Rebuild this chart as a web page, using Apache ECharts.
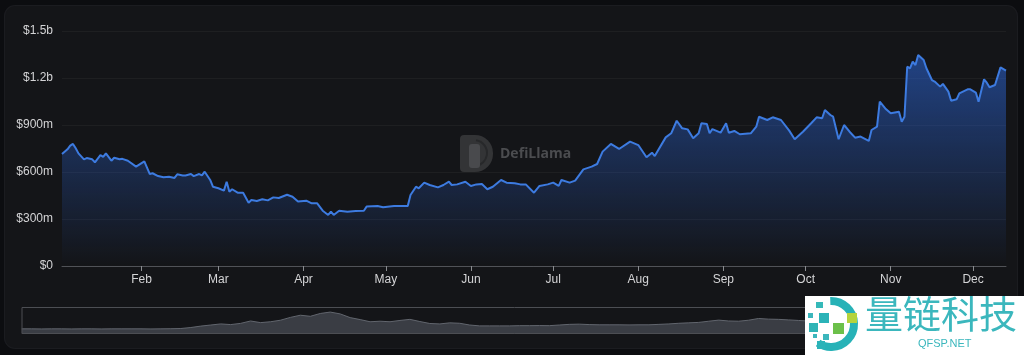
<!DOCTYPE html>
<html><head><meta charset="utf-8">
<script src="https://cdn.jsdelivr.net/npm/echarts@6/dist/echarts.min.js"></script>
<style>
html,body{margin:0;padding:0;background:#0c0d10;width:1024px;height:355px;overflow:hidden}
#card{position:absolute;left:5px;top:6px;width:1012px;height:342px;background:#141518;border-radius:10px;box-shadow:0 0 0 1px #1b1c20}
#chart{position:absolute;left:0;top:0;width:1024px;height:355px}
</style></head><body>
<div id="card"></div><div id="chart"></div>
<script>
const YEAR = '2023';
const dates = ['01-03','01-05','01-06','01-07','01-08','01-09','01-11','01-12','01-14','01-15','01-17','01-18','01-19','01-21','01-22','01-24','01-25','01-27','01-30',
'02-02','02-04','02-05','02-07','02-09','02-11','02-13','02-14','02-16','02-17','02-19','02-20','02-22','02-23','02-24','02-26','02-27',
'03-01','03-03','03-04','03-05','03-06','03-08','03-10','03-12','03-13','03-15','03-17','03-19','03-21','03-23','03-26','03-28','03-30',
'04-02','04-04','04-06','04-08','04-10','04-11','04-12','04-14','04-17','04-20','04-23','04-24','04-28','04-30',
'05-04','05-09','05-10','05-12','05-13','05-15','05-17','05-20','05-22','05-24','05-25','05-27','05-30',
'06-01','06-03','06-05','06-07','06-09','06-12','06-14','06-17','06-19','06-21','06-24','06-26','06-29',
'07-01','07-03','07-04','07-07','07-09','07-12','07-15','07-17','07-19','07-22','07-25','07-29',
'08-01','08-04','08-06','08-07','08-11','08-13','08-15','08-17','08-19','08-21','08-23','08-24','08-26','08-27','08-28','08-31',
'09-02','09-03','09-05','09-07','09-11','09-13','09-14','09-17','09-19','09-22','09-25','09-27','09-30',
'10-03','10-05','10-07','10-08','10-10','10-11','10-13','10-15','10-17','10-19','10-21','10-24','10-25','10-27','10-28','10-30',
'11-01','11-04','11-05','11-06','11-07','11-08','11-09','11-10','11-11','11-13','11-14','11-16','11-17','11-19','11-20','11-22','11-23','11-25','11-26','11-29','11-30',
'12-02','12-03','12-05','12-06','12-07','12-09','12-11','12-13'];
// TVL in millions of USD
const tvl = [715,745,768,779,751,719,681,689,681,662,708,697,719,672,691,681,684,672,634,
668,587,592,574,566,570,562,585,578,578,587,574,587,578,602,549,506,
496,481,538,474,490,468,468,404,421,415,426,419,438,434,455,442,411,
417,400,400,353,326,347,326,353,347,351,353,379,383,375,
383,383,453,506,496,532,517,502,517,538,517,521,538,
511,521,523,490,506,549,532,528,521,521,468,511,521,
532,511,549,532,545,617,634,651,730,779,747,794,
772,694,723,702,821,847,927,879,872,815,847,911,906,847,874,851,
911,851,862,841,847,889,953,932,949,932,864,809,857,
911,949,943,996,964,953,809,900,857,819,826,798,868,889,1049,1006,
975,985,921,953,1272,1262,1304,1283,1347,1315,1262,1187,1177,1145,1162,1113,1055,1064,1102,1128,1128,
1107,1049,1192,1170,1141,1155,1268,1247];
// shape shown in the zoom slider preview (relative units, evenly spaced)
const previewShape = [0.3,0.3,0.2,0.3,0.3,0.2,0.3,0.3,0.2,0.3,0.3,0.3,0.3,0.2,0.3,0.4,0.6,1.5,2.8,3.8,
4.8,4.2,5.3,7.5,6.0,6.8,8.2,10.8,12.8,11.8,14.4,15.7,14.0,10.6,8.8,6.8,7.3,6.8,8.0,9.0,
7.0,5.2,4.8,5.8,5.4,3.8,3.0,3.0,3.0,3.0,3.2,3.2,3.3,3.2,3.8,4.4,4.6,4.2,4.0,4.0,
4.0,3.9,4.0,4.0,4.4,4.8,5.4,5.8,6.2,7.3,8.3,7.5,7.3,8.2,9.8,9.2,9.0,8.5,8.0,7.5,
7.5,7.2,7.0,7.4,7.8,8.2,8.0,7.6,7.2,7.0,7.5,8.5,9.5,10.0,9.6,9.0,8.6,9.0,9.4,9.2];
const monthLabels = ['Jan','Feb','Mar','Apr','May','Jun','Jul','Aug','Sep','Oct','Nov','Dec'];
const yTickValues = [0,300,600,900,1200,1500];
const yTickLabels = ['$0','$300m','$600m','$900m','$1.2b','$1.5b'];

const xMin = YEAR + '-' + dates[0];
const xMax = YEAR + '-' + dates[dates.length - 1];
const mainData = dates.map((d, i) => [YEAR + '-' + d, tvl[i]]);
const t0 = echarts.time.parse(xMin).getTime();
const t1 = echarts.time.parse(xMax).getTime();
const previewData = previewShape.map((v, i) => [t0 + (t1 - t0) * i / (previewShape.length - 1), v]);

const chart = echarts.init(document.getElementById('chart'), null, {renderer: 'canvas'});
const FONT = '"Liberation Sans", Arial, sans-serif';
const TOP = {z: 100, zlevel: 1};
chart.setOption({
  animation: false,
  backgroundColor: 'transparent',
  grid: {left: 62, right: 18, top: 31, bottom: 89, containLabel: false},
  xAxis: {
    type: 'time', min: xMin, max: xMax,
    minInterval: 28 * 86400000, maxInterval: 31 * 86400000,
    axisLine: {lineStyle: {color: '#505257', width: 1}},
    axisTick: {show: true, length: 5, lineStyle: {color: '#8a8c90'}},
    splitLine: {show: false},
    axisLabel: {
      color: '#d4d4d6', fontSize: 12, fontFamily: FONT, margin: 8,
      formatter: v => monthLabels[new Date(v).getMonth()]
    }
  },
  yAxis: [{
    type: 'value', min: 0, max: 1500, interval: 300,
    axisLine: {show: false}, axisTick: {show: false},
    splitLine: {lineStyle: {color: 'rgba(255,255,255,0.045)'}},
    axisLabel: {
      color: '#d4d4d6', fontSize: 12, fontFamily: FONT, margin: 9,
      formatter: v => yTickLabels[yTickValues.indexOf(v)]
    }
  }, {
    type: 'value', show: false, min: 0, max: 100
  }],
  dataZoom: [{
    type: 'slider', xAxisIndex: 0, start: 0, end: 100,
    left: 19, right: 19, top: 307, height: 27,
    backgroundColor: 'rgba(0,0,0,0)',
    borderColor: '#4c4e53',
    fillerColor: 'rgba(0,0,0,0)',
    dataBackground: {lineStyle: {color: '#62666e', width: 1, opacity: 1}, areaStyle: {color: '#3a3d44', opacity: 1}},
    selectedDataBackground: {lineStyle: {color: '#62666e', width: 1, opacity: 1}, areaStyle: {color: '#3a3d44', opacity: 1}},
    handleStyle: {opacity: 0},
    moveHandleSize: 0,
    moveHandleStyle: {opacity: 0},
    showDetail: false,
    brushSelect: false,
    emphasis: {handleStyle: {opacity: 0}, moveHandleStyle: {opacity: 0}}
  }],
  series: [{
    name: 'preview', type: 'line', yAxisIndex: 1, data: previewData,
    symbol: 'none', silent: true, lineStyle: {opacity: 0}, z: 0
  }, {
    name: 'TVL', type: 'line', data: mainData, showSymbol: false, symbol: 'none',
    lineStyle: {color: '#3d7be0', width: 2},
    itemStyle: {color: '#3d7be0'},
    areaStyle: {
      color: new echarts.graphic.LinearGradient(0, 0, 0, 1, [
        {offset: 0, color: 'rgba(45,105,222,0.78)'},
        {offset: 1, color: 'rgba(45,105,222,0)'}
      ])
    },
    z: 3
  }],
  graphic: [
    {type: 'group', left: 460, top: 135, z: 1, silent: true, children: [
      {type: 'rect', shape: {x: 0, y: 0, width: 33, height: 37, r: [4, 18, 18, 4]}, style: {fill: '#333436'}},
      {type: 'arc', shape: {cx: 14, cy: 18, r: 13, startAngle: -Math.PI * 0.45, endAngle: Math.PI * 0.45}, style: {stroke: '#27282a', lineWidth: 2, fill: 'none'}},
      {type: 'rect', shape: {x: 9, y: 9, width: 11, height: 24, r: 3}, style: {fill: '#494a4d'}}
    ]},
    {type: 'text', left: 500, top: 147, z: 1, silent: true, style: {text: 'DefiLlama', fill: '#4b4c4f', font: 'bold 14px "Open Sans", sans-serif'}},
    {type: 'group', left: 805, top: 295, z: 100, zlevel: 1, silent: true, children: [
      Object.assign({type: 'rect', shape: {x: 0, y: 0, width: 219, height: 60}, style: {fill: '#ffffff'}}, TOP),
      Object.assign({type: 'arc', shape: {cx: 26, cy: 28, r: 23, startAngle: -Math.PI * 0.51, endAngle: Math.PI * 0.69, clockwise: true}, style: {stroke: '#27b2b7', lineWidth: 8, fill: 'none'}}, TOP),
      Object.assign({type: 'rect', shape: {x: 11, y: 6, width: 7, height: 6}, style: {fill: '#35b9b9'}}, TOP),
      Object.assign({type: 'rect', shape: {x: 3, y: 17, width: 5, height: 5}, style: {fill: '#3bb6bc'}}, TOP),
      Object.assign({type: 'rect', shape: {x: 14, y: 17, width: 10, height: 10}, style: {fill: '#2bb3b8'}}, TOP),
      Object.assign({type: 'rect', shape: {x: 42, y: 17, width: 10, height: 10}, style: {fill: '#b5d33d'}}, TOP),
      Object.assign({type: 'rect', shape: {x: 4, y: 27, width: 9, height: 9}, style: {fill: '#2fb4b6'}}, TOP),
      Object.assign({type: 'rect', shape: {x: 28, y: 27, width: 11, height: 11}, style: {fill: '#6cc04a'}}, TOP),
      Object.assign({type: 'rect', shape: {x: 8, y: 38, width: 4, height: 4}, style: {fill: '#3bb6bc'}}, TOP),
      Object.assign({type: 'rect', shape: {x: 18, y: 38, width: 6, height: 6}, style: {fill: '#3bb6bc'}}, TOP),
      Object.assign({type: 'rect', shape: {x: 12, y: 45, width: 8, height: 8}, style: {fill: '#2bb3b8'}}, TOP),
      Object.assign({type: 'text', x: 60, y: -1, style: {text: '量链科技', fill: '#3bb7bd', font: '38px "Noto Sans CJK SC"', textVerticalAlign: 'top'}}, TOP),
      Object.assign({type: 'text', x: 113, y: 42, style: {text: 'QFSP.NET', fill: '#3bb7bd', font: '11px "Liberation Sans", sans-serif', textVerticalAlign: 'top'}}, TOP)
    ]}
  ]
});
</script>
</body></html>
